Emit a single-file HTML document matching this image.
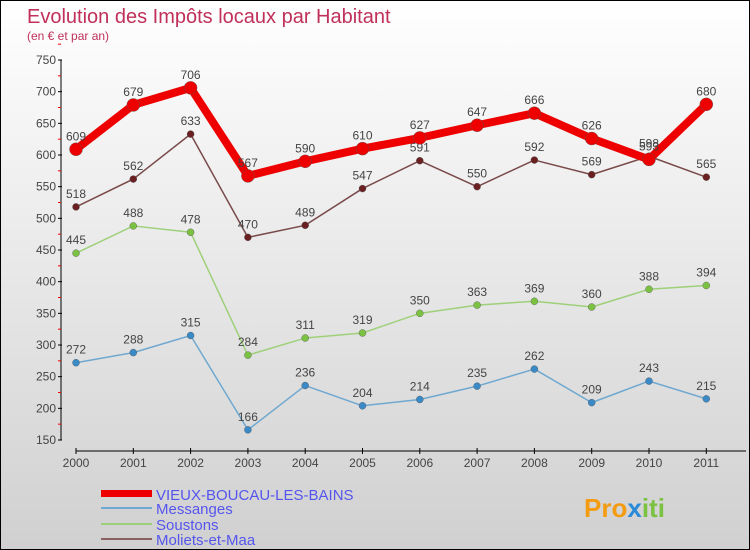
<!DOCTYPE html>
<html><head><meta charset="utf-8"><style>
body{margin:0}
#c{width:750px;height:550px;position:relative;box-sizing:border-box;border:1px solid #000;background:linear-gradient(#fff,#d0d0d0);font-family:"Liberation Sans",sans-serif;overflow:hidden}
</style></head><body>
<div id="c">
<svg id="s" width="748" height="548" style="position:absolute;left:0;top:0" font-family="Liberation Sans, sans-serif">
<text x="26" y="22" font-size="20" fill="#c0305a">Evolution des Impôts locaux par Habitant</text>
<text x="26" y="39" font-size="12" fill="#c0305a">(en € et par an)</text>
<g id="ax"></g><g id="ser"></g>
<g>
<rect x="100" y="489" width="51" height="7" fill="#e00"/>
<text x="155" y="499" font-size="15" fill="#5555ee">VIEUX-BOUCAU-LES-BAINS</text>
<rect x="100" y="506" width="51" height="2" fill="#6fa8d0"/>
<text x="155" y="513" font-size="15" fill="#5555ee">Messanges</text>
<rect x="100" y="522" width="51" height="2" fill="#9ed07a"/>
<text x="155" y="529" font-size="15" fill="#5555ee">Soustons</text>
<rect x="100" y="537" width="51" height="2" fill="#8a6060"/>
<text x="155" y="544" font-size="15" fill="#5555ee">Moliets-et-Maa</text>
</g>
<text x="583" y="516" font-size="26" font-weight="bold" fill="#f39c12">Pro<tspan fill="#2a8ad8">x</tspan><tspan fill="#7cc242">iti</tspan></text>
</svg></div>
<script>
const years=[2000,2001,2002,2003,2004,2005,2006,2007,2008,2009,2010,2011];
const yTicks=[150,200,250,300,350,400,450,500,550,600,650,700,750];
const vieux=[609,679,706,567,590,610,627,647,666,626,593,680];
const messanges=[272,288,315,166,236,204,214,235,262,209,243,215];
const soustons=[445,488,478,284,311,319,350,363,369,360,388,394];
const moliets=[518,562,633,470,489,547,591,550,592,569,598,565];
const NS='http://www.w3.org/2000/svg';
const X=i=>75+i*57.3, Y=v=>439-(v-150)*380/600;
function mk(t,a,p){const e=document.createElementNS(NS,t);for(const k in a)e.setAttribute(k,a[k]);p.appendChild(e);return e;}
const ax=document.getElementById('ax'),ser=document.getElementById('ser');
let yl=mk('line',{x1:60,y1:Y(750),x2:60,y2:Y(150),stroke:'#000'},ax);


yTicks.forEach(v=>{mk('line',{x1:57,x2:61,y1:Y(v),y2:Y(v),stroke:'#000'},ax);
 mk('line',{x1:57,x2:60,y1:Y(v+25),y2:Y(v+25),stroke:'#e00'},ax);
 const t=mk('text',{x:55,y:Y(v)+4,'text-anchor':'end','font-size':12,fill:'#444'},ax);t.textContent=v;
 
 });
let xl=mk('line',{x1:X(0),y1:450,x2:745,y2:450,stroke:'#000'},ax);


years.forEach((y,i)=>{mk('line',{x1:X(i),x2:X(i),y1:447,y2:453,stroke:'#000'},ax);
 const t=mk('text',{x:X(i),y:466,'text-anchor':'middle','font-size':12,fill:'#444'},ax);t.textContent=y;
 
 });
function series(d,col,w,r,name,dot){
 const g=mk('g',{},ser);
 
 
 mk('polyline',{points:d.map((v,i)=>X(i)+','+Y(v)).join(' '),fill:'none',stroke:col,'stroke-width':w,'stroke-linejoin':'round'},g);
 d.forEach((v,i)=>{const c=mk('circle',{cx:X(i),cy:Y(v),r:r,fill:dot,stroke:'#555','stroke-width':0.4},g);
  
  
  const t=mk('text',{x:X(i),y:Y(v)-9,'text-anchor':'middle','font-size':12,fill:'#444'},g);t.textContent=v;
  
  });
}
series(messanges,'#6fa8d0',1.5,3.5,'messanges','#3a8ac8');
series(soustons,'#9ed07a',1.5,3.5,'soustons','#7cc242');
series(moliets,'#7a4a4a',1.5,3.5,'moliets','#6a2020');
series(vieux,'#e00',8,6.5,'vieux','#e00');
</script>
</body></html>
